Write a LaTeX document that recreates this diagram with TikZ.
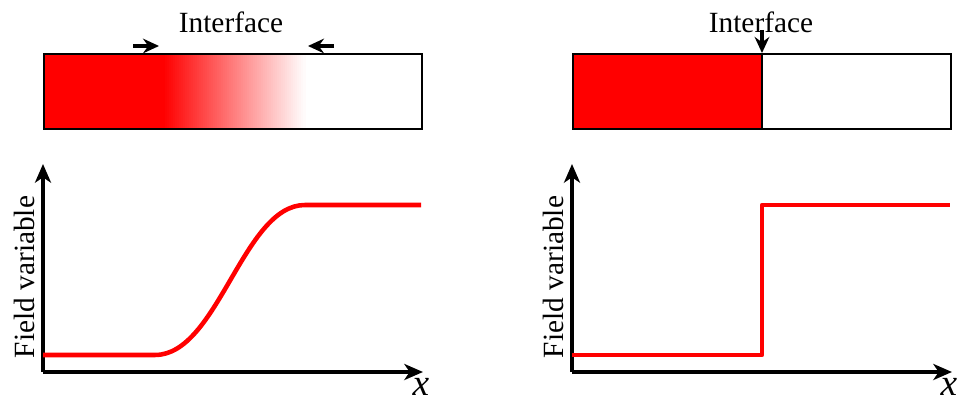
\documentclass[tikz,border=0pt]{standalone}
\usepackage{fontspec}
\setmainfont{Liberation Serif}
\usetikzlibrary{arrows.meta,positioning,calc}
\definecolor{phasered}{RGB}{255,0,0}
\tikzset{
  panel/.style={draw=black, line width=0.9pt},
  axis/.style={-{Stealth[length=7pt,width=6pt,inset=2pt]}, line width=1.4pt, color=black},
  marker/.style={-{Stealth[length=6pt,width=5.5pt,inset=2pt]}, line width=1.2pt, color=black},
  field/.style={draw=phasered, line width=1.7pt, line join=round},
  lbl/.style={font=\fontsize{11}{13}\selectfont, inner sep=1pt},
  xlbl/.style={font=\fontsize{14}{16}\selectfont\itshape, inner sep=0pt, anchor=base}
}
\begin{document}
\begin{tikzpicture}[x=0.375pt, y=-0.375pt]
\useasboundingbox (0,0) rectangle (958,401);

%% Diffuse interface (left)
\fill[phasered] (43,53) rectangle (164,128);
\foreach \i [evaluate=\i as \p using {100-\i*100/71},
             evaluate=\i as \xa using {163+2*\i}] in {0,...,70}
  \fill[phasered!\p!white] (\xa,53) rectangle ++(2.6,75);
\node[panel, minimum width=378*0.375pt, minimum height=75*0.375pt, anchor=north west,
  inner sep=0pt] (diffbox) at (43,53) {};
\node[lbl] (diffifc) at (231,22) {Interface};
\coordinate (diffa) at (133,46);
\coordinate (diffb) at (159,46);
\coordinate (diffc) at (334,46);
\coordinate (diffd) at (308,46);
\draw[marker] (diffa)--(diffb);
\draw[marker] (diffc)--(diffd);

%% Sharp interface (right)
\fill[phasered] (572,53) rectangle (762,128);
\node[panel, minimum width=378*0.375pt, minimum height=75*0.375pt, anchor=north west,
  inner sep=0pt] (sharpbox) at (572,53) {};
\draw[panel] (762,53)--(762,128);
\node[lbl] (sharpifc) at (761,22) {Interface};
\coordinate (sharpa) at (762,30);
\draw[marker] (sharpa)--(sharpbox.north west -| sharpa);

%% Diffuse profile
\coordinate (o1) at (43,372);
\coordinate (ytop1) at (43,164);
\coordinate (xend1) at (423,372);
\draw[axis] (o1)--(ytop1);
\draw[axis] (o1)--(xend1);
\draw[field] (43,355)--(155,355) .. controls (218,355) and (243,205) .. (305,205)--(421,205);
\node[lbl, rotate=90] (fv1) at (24,277) {Field variable};
\node[xlbl] (xl1) at (421,396) {x};

%% Sharp profile
\coordinate (o2) at (572,372);
\coordinate (ytop2) at (572,164);
\coordinate (xend2) at (952,372);
\draw[axis] (o2)--(ytop2);
\draw[axis] (o2)--(xend2);
\draw[field] (572,355)--(762,355)--(762,205)--(950,205);
\node[lbl, rotate=90] (fv2) at (553,277) {Field variable};
\node[xlbl] (xl2) at (949,396) {x};

\end{tikzpicture}
\end{document}
